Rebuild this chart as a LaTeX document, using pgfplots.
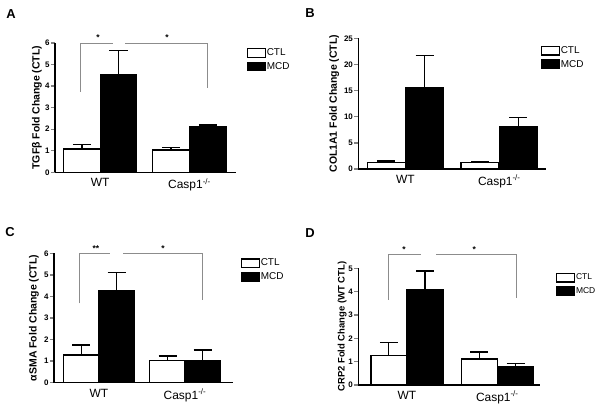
\documentclass[border=0pt]{standalone}
\usepackage{pgfplots}
\pgfplotsset{compat=1.18}
\usepackage{fontspec}
\setmainfont{Liberation Sans}

% geometry in bp (1px = 1bp)
\pgfplotsset{
  boxlegend/.style={legend image code/.code={\draw[##1,line width=1.3bp] (0bp,-4.3bp) rectangle (18bp,4.3bp);}},
  panel/.style={
    scale only axis, anchor=south west, clip=false,
    axis lines=left, axis line style={-, line width=1.5bp},
    xmin=0, ymin=0,
    xtick style={draw=none},
    ytick style={line width=1.3bp},
    tick align=outside, major tick length=4bp,
    /pgf/number format/assume math mode=true,
    yticklabel style={font=\fontsize{8}{9}\selectfont\bfseries, inner sep=1.2bp},
    xticklabel style={font=\fontsize{12}{13}\selectfont, inner sep=2bp},
    ylabel style={font=\fontsize{10.5}{12}\selectfont\bfseries},
    legend style={draw=none, fill=none, inner sep=0pt, outer sep=0pt,
      row sep=3.5bp, anchor=north west, font=\fontsize{10}{11}\selectfont,
      nodes={inner sep=0.8bp}},
    legend cell align=left,
  },
  errs/.style={
    error bars/y dir=plus, error bars/y explicit,
    error bars/error bar style={line width=1.3bp, black},
    error bars/error mark options={rotate=90, mark size=9bp, line width=1.3bp, black}},
  ctl/.style={ybar, bar shift=0pt, fill=white, draw=black, line width=1.4bp, boxlegend, errs},
  mcd/.style={ybar, bar shift=0pt, fill=black, draw=black, line width=1.4bp, boxlegend, errs},
}
\tikzset{brk/.style={draw=black!45, line width=1bp},
  star/.style={font=\fontsize{8.5}{9}\selectfont\bfseries}}
\newcommand{\casp}{Casp1\textsuperscript{-/-}}

\begin{document}
\begin{tikzpicture}
\path[use as bounding box] (0,0) rectangle (602bp,405bp);

% ---------- A ----------
\begin{axis}[panel, at={(55bp,232.7bp)}, width=181bp, height=129.3bp,
  xmax=181, ymax=6, ytick={0,1,...,6},
  xtick={45.25,134.5}, xticklabels={WT,\casp},
  ylabel={TGFβ Fold Change (CTL)},
  ylabel style={at={([xshift=-18bp]axis description cs:0,0.5)}, anchor=center},
  legend style={at={(1.059,0.962)}}]
\addplot[ctl, bar width=36.5] coordinates {(27,1.08) +- (0,0.22) (116,1.03) +- (0,0.13)};
\addplot[mcd, bar width=36.5] coordinates {(63.5,4.51) +- (0,1.13) (153,2.10) +- (0,0.10)};
\legend{CTL,MCD}
\draw[brk] (axis cs:25,3.73) -- (axis cs:25,6) -- (axis cs:58,6);
\draw[brk] (axis cs:70,6) -- (axis cs:152,6) -- (axis cs:152,3.9);
\node[star] at ([yshift=5bp]axis cs:43,6) {*};
\node[star] at ([yshift=5bp]axis cs:112,6) {*};
\end{axis}

% ---------- B ----------
\begin{axis}[panel, at={(358.3bp,236bp)}, width=188bp, height=130.7bp,
  xmax=188, ymax=25, ytick={0,5,...,25},
  xtick={47,141}, xticklabels={WT,\casp},
  ylabel={COL1A1 Fold Change (CTL)},
  ylabel style={at={([xshift=-24bp]axis description cs:0,0.5)}, anchor=center},
  legend style={at={(0.970,0.943)}}]
\addplot[ctl, bar width=38] coordinates {(28,1.25) +- (0,0.3) (121.7,1.2) +- (0,0.3)};
\addplot[mcd, bar width=38] coordinates {(66.3,15.6) +- (0,6.1) (160,8.1) +- (0,1.7)};
\legend{CTL,MCD}
\end{axis}

% ---------- C ----------
\begin{axis}[panel, at={(54bp,22.3bp)}, width=179bp, height=129.4bp,
  xmax=179, ymax=6, ytick={0,1,...,6},
  xtick={45,131}, xticklabels={WT,\casp},
  ylabel={αSMA Fold Change (CTL)},
  ylabel style={at={([xshift=-20bp]axis description cs:0,0.5)}, anchor=center},
  legend style={at={(1.043,0.962)}}]
\addplot[ctl, bar width=35.5] coordinates {(27.2,1.28) +- (0,0.47) (113.5,1.02) +- (0,0.22)};
\addplot[mcd, bar width=35.5] coordinates {(62.7,4.26) +- (0,0.85) (148.7,1.02) +- (0,0.49)};
\legend{CTL,MCD}
\draw[brk] (axis cs:25,3.68) -- (axis cs:25,6) -- (axis cs:56,6);
\draw[brk] (axis cs:69,6) -- (axis cs:148.7,6) -- (axis cs:148.7,3.83);
\node[star] at ([yshift=5bp]axis cs:42,6) {**};
\node[star] at ([yshift=5bp]axis cs:109,6) {*};
\end{axis}

% ---------- D ----------
\begin{axis}[panel, at={(358.3bp,20bp)}, width=182bp, height=116.7bp,
  xmax=182, ymax=5, ytick={0,1,...,5},
  xtick={48.6,139}, xticklabels={WT,\casp},
  ylabel={CRP2 Fold Change (WT CTL)},
  ylabel style={at={([xshift=-16bp]axis description cs:0,0.5)}, anchor=center,
    font=\fontsize{9.5}{10}\selectfont\bfseries},
  legend style={at={(1.086,0.962)}, font=\fontsize{8.5}{9.5}\selectfont}]
\addplot[ctl, bar width=36] coordinates {(30.5,1.27) +- (0,0.54) (120.9,1.12) +- (0,0.29)};
\addplot[mcd, bar width=36] coordinates {(66.7,4.07) +- (0,0.81) (157.2,0.80) +- (0,0.12)};
\legend{CTL,MCD}
\draw[brk] (axis cs:30,3.65) -- (axis cs:30,5.58) -- (axis cs:62.4,5.58);
\draw[brk] (axis cs:77.7,5.58) -- (axis cs:158.4,5.58) -- (axis cs:158.4,3.72);
\node[star] at ([yshift=5bp]axis cs:45.7,5.58) {*};
\node[star] at ([yshift=5bp]axis cs:116,5.58) {*};
\end{axis}

% panel letters
\node[font=\fontsize{13}{14}\selectfont\bfseries] at (11bp,390.5bp) {A};
\node[font=\fontsize{13}{14}\selectfont\bfseries] at (310bp,392bp) {B};
\node[font=\fontsize{13}{14}\selectfont\bfseries] at (10bp,173bp) {C};
\node[font=\fontsize{13}{14}\selectfont\bfseries] at (310bp,172bp) {D};
\end{tikzpicture}
\end{document}
